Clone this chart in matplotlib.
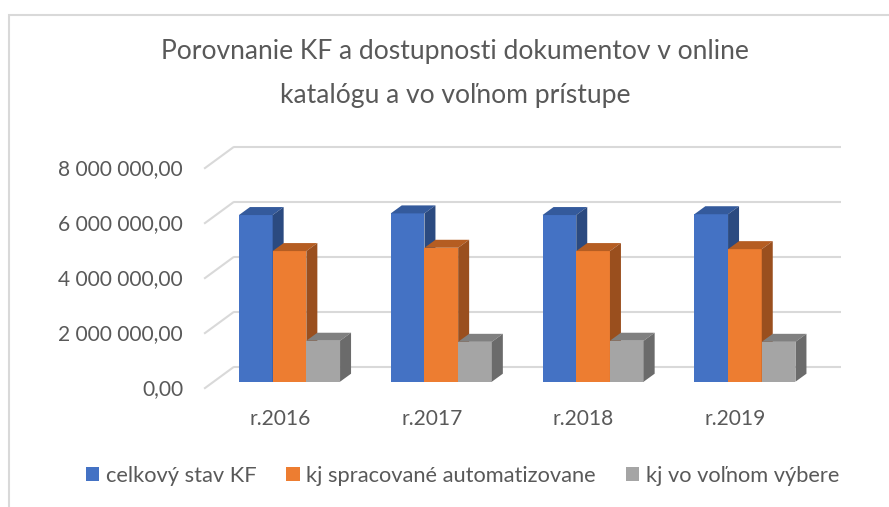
import matplotlib
matplotlib.use("Agg")
import matplotlib.pyplot as plt
from matplotlib.patches import Polygon, Rectangle
import numpy as np

# ---------------- data ----------------
categories = ["r.2016", "r.2017", "r.2018", "r.2019"]
series_names = ["celkový stav KF", "kj spracované automatizovane", "kj vo voľnom výbere"]
celkovy_stav = [6.06e6, 6.12e6, 6.06e6, 6.09e6]
spracovane = [4.75e6, 4.87e6, 4.75e6, 4.82e6]
volny_vyber = [1.49e6, 1.45e6, 1.49e6, 1.45e6]
y_ticks = [0, 2e6, 4e6, 6e6, 8e6]
y_tick_labels = ["0,00", "2 000 000,00", "4 000 000,00", "6 000 000,00", "8 000 000,00"]
title_lines = ["Porovnanie KF a dostupnosti dokumentov v online",
               "katalógu a vo voľnom prístupe"]

# ---------------- style ----------------
FONT = ["Lato", "DejaVu Sans"]
TXT = "#595959"
GRID = "#d9d9d9"
front_colors = ["#4472C4", "#ED7D31", "#A5A5A5"]
top_colors = ["#345A9C", "#B55D22", "#808080"]
side_colors = ["#2B4A80", "#9A4F1E", "#6B6B6B"]

W, H = 889, 507
fig = plt.figure(figsize=(W / 100, H / 100), dpi=100)
renderer = fig.canvas.get_renderer()


def fit(s, target_px, base=14.0):
    t = fig.text(0, 0, s, fontsize=base, family=FONT)
    w = t.get_window_extent(renderer).width
    t.remove()
    return base * target_px / w


fs_tick = fit(y_tick_labels[-1], 126)
fs_title = fit(title_lines[0], 592)
fs_leg = fit(series_names[1], 292)

# chart frame
fig.patches.append(Rectangle((9 / W, -0.2), 1.5, (H - 15) / H + 0.2,
                             transform=fig.transFigure, fill=False,
                             edgecolor=GRID, lw=1.5))

# axes = front-face plane of the columns
ax = fig.add_axes([213.6 / W, (H - 381.7) / H, 607.2 / W, 220 / H])
ax.set_xlim(-0.5, 3.5)
ax.set_ylim(0, 8e6)
ax.axis("off")
bb = ax.get_window_extent(renderer)
xpp = 4.0 / bb.width
ypp = 8e6 / bb.height


def off(dx_px, dy_px):
    return dx_px * xpp, dy_px * ypp


bwx, bwy = off(20.5, 15)    # back wall
ffx, ffy = off(-9.5, -7)    # front edge of floor
bdx, bdy = off(11, 8)       # column depth
x0l, x1l = ax.get_xlim()

# gridlines: back wall + side wall diagonals
for v in y_ticks:
    ax.plot([x0l + bwx, x1l + bwx], [v + bwy, v + bwy], color=GRID, lw=1.5,
            clip_on=False, zorder=1, solid_capstyle="butt")
    ax.plot([x0l + ffx, x0l + bwx], [v + ffy, v + bwy], color=GRID, lw=1.5,
            clip_on=False, zorder=1, solid_capstyle="butt")

# y tick labels (at the front of the side wall)
lx, _ = off(-21, 0)
for v, lab in zip(y_ticks, y_tick_labels):
    ax.text(x0l + ffx + lx, v + ffy, lab, ha="right", va="center",
            fontsize=fs_tick, color=TXT, family=FONT)

# x labels
_, ly = off(0, -30)
xs_cat = np.arange(len(categories))
for x, lab in zip(xs_cat, categories):
    ax.text(x + ffx, ffy + ly, lab, ha="center", va="center",
            fontsize=fs_tick, color=TXT, family=FONT)

# columns
bw = 0.222
series = [celkovy_stav, spracovane, volny_vyber]
handles = []
for s, vals in enumerate(series):
    xs = xs_cat + (s - 1) * bw
    z = 3 + s
    cont = ax.bar(xs, vals, width=bw, color=front_colors[s], lw=0, zorder=z)
    handles.append(cont)
    for c, v in zip(xs, vals):
        xa, xb = c - bw / 2, c + bw / 2
        ax.add_patch(Polygon([(xa, v), (xb, v), (xb + bdx, v + bdy), (xa + bdx, v + bdy)],
                             closed=True, facecolor=top_colors[s], lw=0, zorder=z,
                             clip_on=False))
        ax.add_patch(Polygon([(xb, 0), (xb, v), (xb + bdx, v + bdy), (xb + bdx, bdy)],
                             closed=True, facecolor=side_colors[s], lw=0, zorder=z,
                             clip_on=False))

# title
fig.text(455 / W, 1 - 52 / H, title_lines[0], ha="center", va="center",
         fontsize=fs_title, color=TXT, family=FONT)
fig.text(455 / W, 1 - 95 / H, title_lines[1], ha="center", va="center",
         fontsize=fs_title, color=TXT, family=FONT)

# legend
sq = 13.7 / (fs_leg * 100 / 72)
leg = fig.legend(handles=handles, labels=series_names, loc="center",
                 bbox_to_anchor=(462.5 / W, 1 - 476 / H), ncol=3, frameon=False,
                 handlelength=sq, handleheight=sq, handletextpad=0.3,
                 columnspacing=1.35, prop={"family": FONT, "size": fs_leg})
for t in leg.get_texts():
    t.set_color(TXT)

fig.savefig("out.png", dpi=100)
